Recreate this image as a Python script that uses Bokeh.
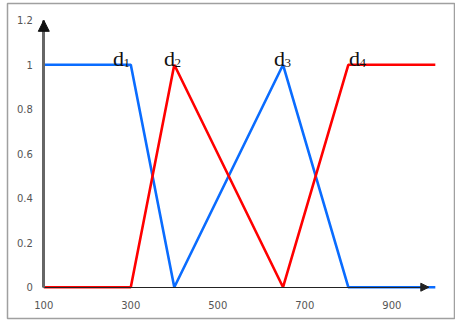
from bokeh.plotting import figure
from bokeh.models import Range1d, FixedTicker, Arrow, NormalHead, ColumnDataSource
from bokeh.core.properties import value
from bokeh.embed import file_html
from bokeh.resources import INLINE

# data
x_pts = [100, 300, 400, 650, 800, 1000]
y_blue = [1, 1, 0, 1, 0, 0]
y_red = [0, 0, 1, 0, 1, 1]
label_main = ["d", "d", "d", "d"]
label_sub = ["1", "2", "3", "4"]
label_x = [272, 389, 642, 814]
label_y = [1.03, 1.03, 1.03, 1.03]
x_ticks = [100, 300, 500, 700, 900]
y_ticks = [0, 0.2, 0.4, 0.6, 0.8, 1, 1.2]
y_tick_labels = ["0", "0.2", "0.4", "0.6", "0.8", "1", "1.2"]

p = figure(width=455, height=322, output_backend="svg", toolbar_location=None,
           x_range=Range1d(16.6, 1046.4), y_range=Range1d(-0.1407, 1.2756),
           min_border_left=7, min_border_right=0, min_border_top=3, min_border_bottom=4)
p.grid.visible = False
p.outline_line_color = "#a0a0a0"
p.outline_line_width = 1.5
p.background_fill_color = "white"

# axes
p.yaxis.fixed_location = 100
p.xaxis.fixed_location = 0
p.yaxis.bounds = (0, 1.2)
p.xaxis.bounds = (100, 985)
p.yaxis.ticker = FixedTicker(ticks=y_ticks)
p.xaxis.ticker = FixedTicker(ticks=x_ticks)
p.yaxis.major_label_overrides = {t: s for t, s in zip(y_ticks, y_tick_labels)}
for ax in (p.xaxis, p.yaxis):
    ax.major_tick_line_color = None
    ax.minor_tick_line_color = None
    ax.major_tick_out = 0
    ax.major_tick_in = 0
    ax.major_label_text_font = "DejaVu Sans"
    ax.major_label_text_font_size = "10px"
    ax.major_label_text_color = "#555555"
p.yaxis.axis_line_color = "#666666"
p.yaxis.axis_line_width = 3
p.xaxis.axis_line_color = "#222222"
p.xaxis.axis_line_width = 1.2
p.yaxis.major_label_standoff = 11
p.xaxis.major_label_standoff = 14

# lines
p.line(x_pts, y_blue, line_color="#0a6cff", line_width=2.6)
p.line(x_pts, y_red, line_color="#ff0000", line_width=2.6)

# arrows
p.add_layout(Arrow(end=NormalHead(size=11, fill_color="#111111", line_color="#111111"),
                   x_start=100, y_start=1.15, x_end=100, y_end=1.2, line_alpha=0))
p.add_layout(Arrow(end=NormalHead(size=8, fill_color="#222222", line_color="#222222"),
                   x_start=960, y_start=0, x_end=985, y_end=0, line_alpha=0))

# labels
src = ColumnDataSource(dict(x=label_x, y=label_y, main=label_main, sub=label_sub))
p.text(x="x", y="y", text="main", source=src, text_font=value("Liberation Serif"),
       text_font_size="22px", text_align="center", text_baseline="alphabetic",
       text_color="#111111")
p.text(x="x", y="y", text="sub", source=src, text_font=value("Liberation Serif"),
       text_font_size="13px", text_align="left", text_baseline="alphabetic",
       x_offset=5, y_offset=5, text_color="#111111")

open("out.html", "w").write(file_html(p, INLINE))
